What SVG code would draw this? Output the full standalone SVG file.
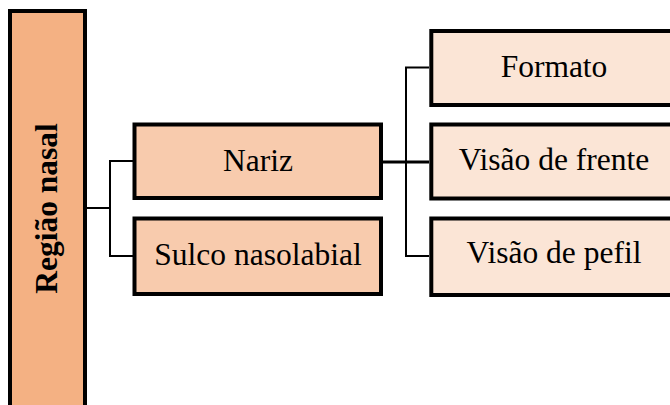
<svg xmlns="http://www.w3.org/2000/svg" width="670" height="405" viewBox="0 0 670 405">
  <style>
    .box { stroke: #000; stroke-width: 4; }
    .root { fill: #F4B183; }
    .mid { fill: #F8CBAD; }
    .leaf { fill: #FBE5D6; }
    .lbl { font-family: "Liberation Serif", "Times New Roman", serif; font-size: 31.5px; fill: #000; text-anchor: middle; }
    .bold { font-weight: bold; }
    .wire { stroke: #000; stroke-width: 2; fill: none; }
  </style>

  <g id="connectors">
    <polyline class="wire" points="87,208 110,208"/>
    <polyline class="wire" points="133,161 110,161 110,256 133,256"/>
    <polyline class="wire" points="383,162 429,162" style="stroke-width:3"/>
    <polyline class="wire" points="429,67.5 406,67.5 406,256 429,256"/>
  </g>

  <g id="regiao-nasal">
    <rect class="box root" x="10" y="11" width="75" height="400"/>
    <text class="lbl bold" transform="translate(57,208.5) rotate(-90)">Região nasal</text>
  </g>

  <g id="nariz">
    <rect class="box mid" x="134.5" y="124.5" width="246.5" height="73.5"/>
    <text class="lbl" x="258" y="171">Nariz</text>
  </g>

  <g id="sulco-nasolabial">
    <rect class="box mid" x="134.5" y="218.5" width="246.5" height="75.5"/>
    <text class="lbl" x="258" y="265">Sulco nasolabial</text>
  </g>

  <g id="formato">
    <rect class="box leaf" x="431.3" y="31" width="246.5" height="74"/>
    <text class="lbl" x="554" y="77">Formato</text>
  </g>

  <g id="visao-frente">
    <rect class="box leaf" x="431.3" y="124.5" width="246.5" height="74"/>
    <text class="lbl" x="554" y="170">Visão de frente</text>
  </g>

  <g id="visao-perfil">
    <rect class="box leaf" x="431.3" y="218.5" width="246.5" height="76.5"/>
    <text class="lbl" x="554" y="263">Visão de pefil</text>
  </g>
</svg>
